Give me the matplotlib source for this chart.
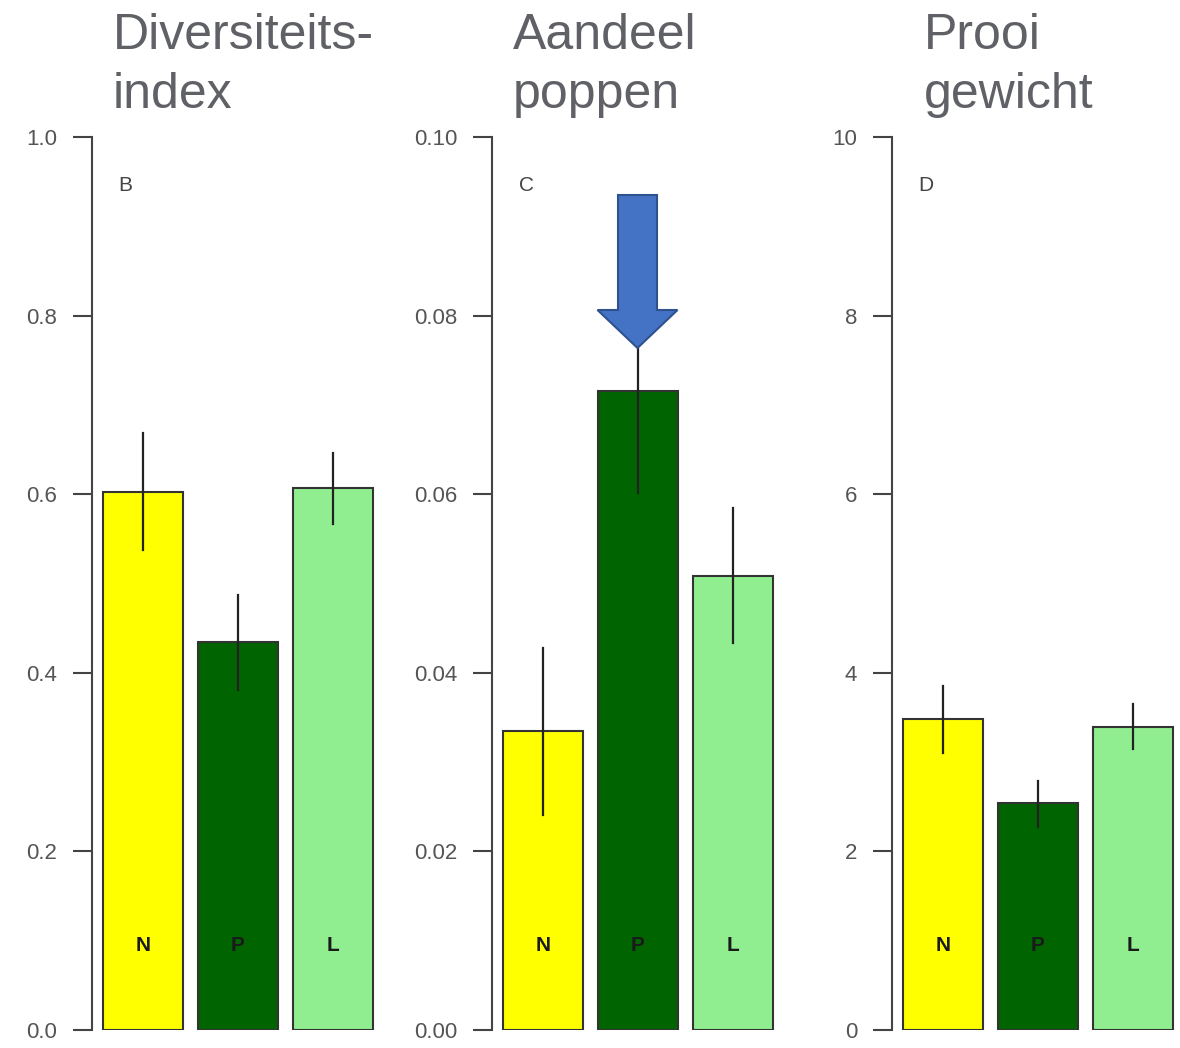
import matplotlib.pyplot as plt
from matplotlib.patches import FancyArrow

plt.rcParams['font.family'] = ['Liberation Sans', 'DejaVu Sans']

groups = ['N', 'P', 'L']
colors = ['#FFFF00', '#006400', '#90EE90']

titles = ['Diversiteits-\nindex', 'Aandeel\npoppen', 'Prooi\ngewicht']
panel_letters = ['B', 'C', 'D']

div_mean = [0.603, 0.435, 0.607]
div_lo = [0.537, 0.381, 0.567]
div_hi = [0.668, 0.487, 0.646]

pop_mean = [0.0335, 0.0716, 0.0508]
pop_lo = [0.0241, 0.0601, 0.0433]
pop_hi = [0.0428, 0.0767, 0.0585]

gew_mean = [3.48, 2.54, 3.39]
gew_lo = [3.10, 2.27, 3.15]
gew_hi = [3.85, 2.79, 3.65]

ymax = [1.0, 0.10, 10]
yticks = [[0, 0.2, 0.4, 0.6, 0.8, 1.0],
          [0, 0.02, 0.04, 0.06, 0.08, 0.10],
          [0, 2, 4, 6, 8, 10]]
yticklabels = [['0.0', '0.2', '0.4', '0.6', '0.8', '1.0'],
               ['0.00', '0.02', '0.04', '0.06', '0.08', '0.10'],
               ['0', '2', '4', '6', '8', '10']]

means = [div_mean, pop_mean, gew_mean]
los = [div_lo, pop_lo, gew_lo]
his = [div_hi, pop_hi, gew_hi]

W, H = 1180, 1048
fig = plt.figure(figsize=(W / 100, H / 100), dpi=100)

spine_x = [92, 492, 892]
title_x = [113, 513, 924]
unit = 95.0
xlo = -51 / unit
xhi = 2.5
for i in range(3):
    left = spine_x[i] / W
    width = (xhi - xlo) * unit / W
    ax = fig.add_axes([left, 18 / H, width, 893 / H])
    x = [0, 1, 2]
    ax.bar(x, means[i], width=80 / unit, color=colors, edgecolor='#333333',
           linewidth=1.5, zorder=2)
    for j in range(3):
        ax.plot([x[j], x[j]], [los[i][j], his[i][j]], color='#222222', lw=1.6, zorder=3)
        ax.text(x[j], ymax[i] * 0.095, groups[j], ha='center', va='center',
                fontsize=15, color='#1a1a1a', fontweight='semibold')
    ax.set_xlim(xlo, xhi)
    ax.set_ylim(0, ymax[i])
    ax.set_yticks(yticks[i])
    ax.set_yticklabels(yticklabels[i])
    for s in ['top', 'right', 'bottom']:
        ax.spines[s].set_visible(False)
    ax.spines['left'].set_color('#444444')
    ax.spines['left'].set_linewidth(1.5)
    ax.set_xticks([])
    ax.tick_params(axis='y', length=14, width=1.5, color='#444444',
                   labelsize=16, labelcolor='#555555', pad=11)
    ax.patch.set_visible(False)
    ax.text(0.092, 0.946, panel_letters[i], transform=ax.transAxes,
            fontsize=15, color='#444444', ha='left', va='center')
    fig.text(title_x[i] / W, 1 - 13 / H, titles[i], ha='left', va='top',
             fontsize=36, color='#5f6166', linespacing=1.36)

# blue arrow pointing at P bar in middle panel
arrow_ax = fig.add_axes([0, 0, 1, 1])
arrow_ax.set_xlim(0, W)
arrow_ax.set_ylim(H, 0)
arrow_ax.axis('off')
arrow_ax.add_patch(FancyArrow(637.5, 195, 0, 153, width=39, head_width=80,
                              head_length=38, length_includes_head=True,
                              facecolor='#4472C4', edgecolor='#2F528F', lw=1.5))

fig.savefig('out.png', dpi=100)
